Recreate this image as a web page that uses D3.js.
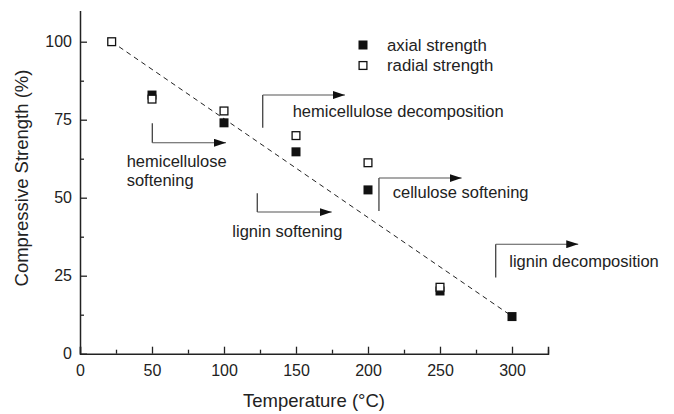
<!DOCTYPE html>
<html><head><meta charset="utf-8">
<script src="https://cdn.jsdelivr.net/npm/d3@7"></script>
<style>body{margin:0;background:#fff}svg{display:block}text{font-family:Arial,"Liberation Sans",Helvetica,sans-serif;fill:#222}</style>
</head><body>
<script>
const temperatures = [50, 100, 150, 200, 250, 300];
const axialStrength = [82.9, 74.0, 64.7, 52.5, 20.1, 11.9];
const radialTemps = [22, 50, 100, 150, 200, 250];
const radialStrength = [100, 81.6, 77.8, 69.9, 61.2, 21.3];
const trendStart = [22, 100];
const trendEnd = [300, 12];
const xTicks = [0, 50, 100, 150, 200, 250, 300];
const yTicks = [0, 25, 50, 75, 100];
const seriesNames = ["axial strength", "radial strength"];
// annotations: vertical x, vertical y1 (start), y2 (corner), arrow end x, text lines, text x, baseline ys
const annotations = [
  {vx: 50.2, y1: 73.9, y2: 67.6, x2: 101.4, lines: ["hemicellulose", "softening"], tx: 32.4, ty: [59.8, 53.8]},
  {vx: 126.9, y1: 72.4, y2: 82.9, x2: 184, lines: ["hemicellulose decomposition"], tx: 147.7, ty: [76.0]},
  {vx: 123.1, y1: 51.4, y2: 45.4, x2: 174.8, lines: ["lignin softening"], tx: 105.8, ty: [37.5]},
  {vx: 207.6, y1: 45.7, y2: 56.3, x2: 265, lines: ["cellulose softening"], tx: 217.2, ty: [49.8]},
  {vx: 288.7, y1: 24.4, y2: 35.1, x2: 346, lines: ["lignin decomposition"], tx: 298.1, ty: [27.9]}
];

const W = 674, H = 414;
const svg = d3.select("body").append("svg").attr("width", W).attr("height", H);
const x = d3.scaleLinear().domain([0, 325]).range([80, 548]);
const y = d3.scaleLinear().domain([0, 110]).range([353.7, 10.5]);

svg.append("defs").append("marker").attr("id", "ah")
  .attr("viewBox", "0 0 12 8").attr("refX", 12).attr("refY", 4)
  .attr("markerWidth", 12).attr("markerHeight", 8).attr("markerUnits", "userSpaceOnUse")
  .attr("orient", "auto")
  .append("path").attr("d", "M0,0L12,4L0,8Z").attr("fill", "#111");

// axes
const gx = svg.append("g").attr("transform", `translate(0,${y(0)})`);
gx.call(d3.axisBottom(x).tickValues(d3.range(25, 326, 50)).tickSizeInner(-4).tickSizeOuter(0).tickFormat(""));
gx.call(g => g.select(".domain").remove());
const gx2 = svg.append("g").attr("transform", `translate(0,${y(0)})`);
gx2.call(d3.axisBottom(x).tickValues(xTicks).tickSizeInner(-7).tickSizeOuter(-7).tickPadding(14));
gx2.selectAll("text").attr("font-size", 16).attr("fill", "#222").attr("dy", "0.5em");
const gy = svg.append("g").attr("transform", `translate(${x(0)},0)`);
gy.call(d3.axisLeft(y).tickValues(d3.range(12.5, 110, 25)).tickSizeInner(-4).tickSizeOuter(0).tickFormat(""));
gy.call(g => g.select(".domain").remove());
const gy2 = svg.append("g").attr("transform", `translate(${x(0)},0)`);
gy2.call(d3.axisLeft(y).tickValues(yTicks).tickSizeInner(-7).tickSizeOuter(0).tickPadding(8));
gy2.selectAll("text").attr("font-size", 16).attr("fill", "#222");
svg.selectAll(".domain").attr("stroke", "#222").attr("stroke-width", 1.5);
svg.selectAll(".tick line").attr("stroke", "#222").attr("stroke-width", 1.3);
svg.selectAll(".tick text").attr("font-family", "Arial, 'Liberation Sans', sans-serif");

// axis titles
svg.append("text").attr("x", 314).attr("y", 407).attr("text-anchor", "middle").attr("font-size", 18.5).text("Temperature (°C)");
svg.append("text").attr("transform", `translate(28,${178}) rotate(-90)`).attr("text-anchor", "middle").attr("font-size", 18.5).text("Compressive Strength (%)");

// trend line
svg.append("line").attr("x1", x(trendStart[0])).attr("y1", y(trendStart[1]))
  .attr("x2", x(trendEnd[0])).attr("y2", y(trendEnd[1]))
  .attr("stroke", "#222").attr("stroke-width", 1).attr("stroke-dasharray", "5,4");

// markers
const S = 9;
svg.append("g").selectAll("rect").data(temperatures.map((t, i) => [t, axialStrength[i]])).join("rect")
  .attr("x", d => x(d[0]) - S / 2).attr("y", d => y(d[1]) - S / 2).attr("width", S).attr("height", S)
  .attr("fill", "#111");
svg.append("g").selectAll("rect").data(radialTemps.map((t, i) => [t, radialStrength[i]])).join("rect")
  .attr("x", d => x(d[0]) - S / 2 + 0.6).attr("y", d => y(d[1]) - S / 2 + 0.6).attr("width", S - 1.2).attr("height", S - 1.2)
  .attr("fill", "#fff").attr("stroke", "#111").attr("stroke-width", 1.3);

// annotations
const ga = svg.append("g");
annotations.forEach(a => {
  ga.append("path").attr("d", `M${x(a.vx)},${y(a.y1)}V${y(a.y2)}`).attr("stroke", "#333").attr("stroke-width", 1.2).attr("fill", "none");
  ga.append("path").attr("d", `M${x(a.vx)},${y(a.y2)}H${x(a.x2)}`).attr("stroke", "#555").attr("stroke-width", 1.1).attr("fill", "none").attr("marker-end", "url(#ah)");
  a.lines.forEach((l, i) => ga.append("text").attr("x", x(a.tx)).attr("y", y(a.ty[i])).attr("font-size", 16.5).text(l));
});

// legend
const lg = svg.append("g");
seriesNames.forEach((n, i) => {
  const cy = 45 + i * 20.5;
  const r = lg.append("rect").attr("x", 363 - S / 2).attr("y", cy - S / 2).attr("width", S).attr("height", S);
  if (i === 0) r.attr("fill", "#111");
  else r.attr("x", 363 - S / 2 + 0.6).attr("y", cy - S / 2 + 0.6).attr("width", S - 1.2).attr("height", S - 1.2).attr("fill", "#fff").attr("stroke", "#111").attr("stroke-width", 1.3);
  lg.append("text").attr("x", 387).attr("y", cy + 5.5).attr("font-size", 16.8).text(n);
});
</script>
</body></html>
